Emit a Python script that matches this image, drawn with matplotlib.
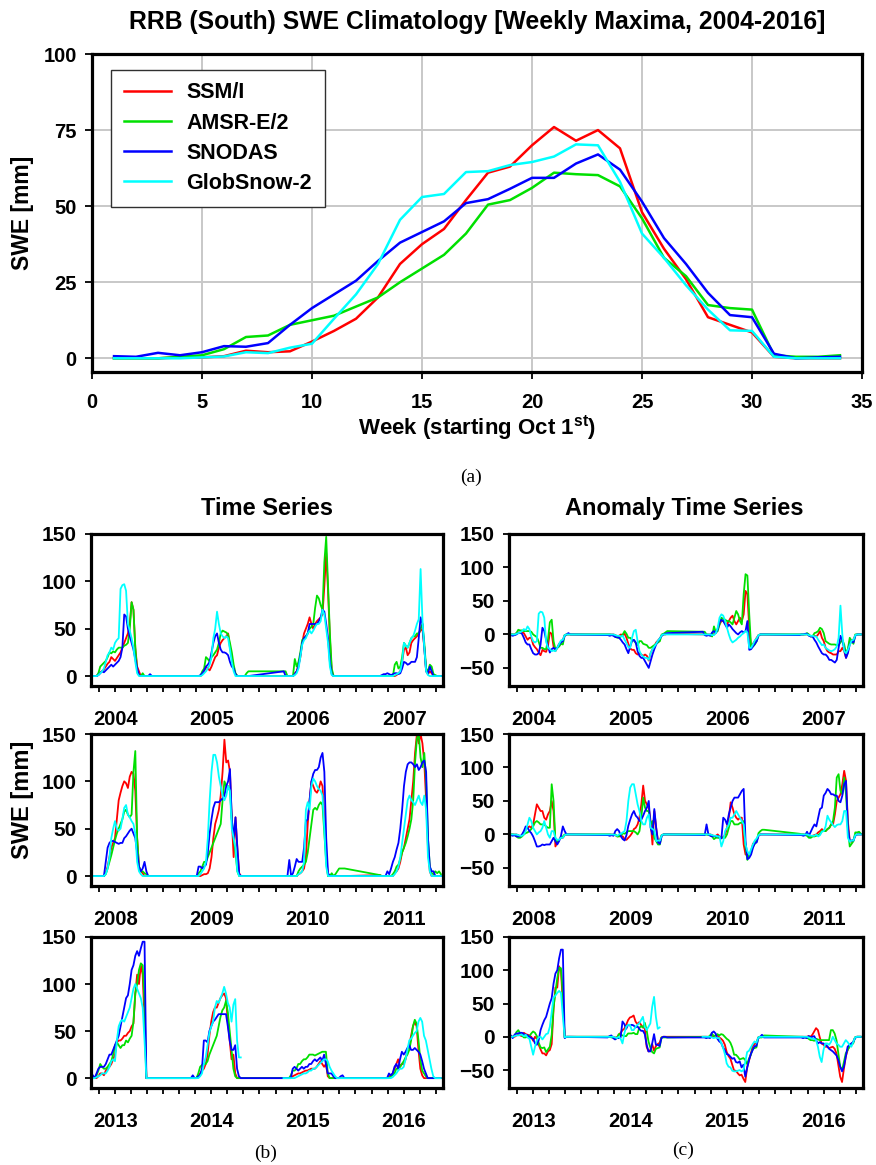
import numpy as np
import matplotlib
matplotlib.use('Agg')
import matplotlib.pyplot as plt
import matplotlib.dates as mdates

nan = np.nan

# ---------------- panel (a): weekly climatology ----------------
weeks = np.arange(1, 35)
ssmi_clim = [0, 0, 0, 0.3, 0.3, 0.7, 2.5, 2, 2.3, 5.5, 9, 13, 20, 31, 37.5, 42.5, 52, 61, 63, 70,
             76, 71.5, 75, 69, 48, 36, 26, 13.5, 11, 8.5, 0.5, 0, 0, 0]
amsr_clim = [0, 0, 0, 0.5, 1, 3, 7, 7.5, 11, 12.5, 14, 17, 20, 25, 29.5, 34, 41, 50.5, 52, 56,
             61, 60.5, 60.2, 56.5, 46, 33, 27, 17.5, 16.5, 16, 1, 0.5, 0.5, 1]
snodas_clim = [0.7, 0.5, 1.8, 1, 2, 4, 3.8, 5, 11, 16.5, 21, 25.5, 32, 38, 41.5, 45, 51, 52.3, 55.7, 59.3,
               59.3, 64, 67, 62, 51.5, 39.5, 31, 21.5, 14.2, 13.5, 1.5, 0, 0.3, 0.5]
glob_clim = [0, 0, 0, 0, 0.3, 0.6, 2, 1.7, 3.5, 4.8, 13, 21, 31, 45.5, 53, 54, 61.2, 61.5, 63.5, 64.5,
             66.3, 70.3, 70, 58, 41, 33, 24, 16, 9.2, 9, 0.5, 0, 0, 0]

# ---------------- panel (b): weekly SWE per season (Oct 1 - late May) ----------------
ssmi_ts = {
    2004: [0,0,0,0,2,4,5,7,10,13,15,20,18,16,19,22,25,30,35,40,45,55,78,70,30,10,5,0,0,0,0,0,0,0],
    2005: [0,0,0,0,0,0,0,0,2,5,10,8,6,10,15,20,22,30,35,38,40,42,45,30,20,8,2,0,0,0,0,0,0,0],
    2006: [0,0,0,0,0,0,3,5,12,20,35,45,50,55,62,55,50,55,58,60,62,65,95,130,90,40,5,0,0,0,0,0,0,0],
    2007: [0,0,0,0,0,0,0,0,0,1,3,5,15,28,30,22,25,35,38,40,42,45,48,50,30,5,2,5,3,0,0,0,0,0],
    2008: [0,0,0,0,0,0,0,0,3,10,20,30,35,40,60,80,88,95,100,98,93,105,110,108,90,40,10,5,3,0,0,0,0,0],
    2009: [0,0,0,0,0,0,0,0,1,2,2,3,8,20,40,55,62,70,85,110,144,120,122,110,60,20,62,30,3,0,0,0,0,0],
    2010: [0,0,0,0,0,0,0,0,2,3,5,8,20,55,80,100,95,90,88,92,100,95,60,20,0,0,0,0,0,0,0,0,0,0],
    2011: [1,0,0,0,0,0,0,0,3,5,8,15,25,30,40,50,60,80,100,130,150,140,150,140,120,80,30,5,0,0,0,0,0,0],
    2013: [2,1,0,0,2,5,5,3,8,10,12,15,20,25,38,40,40,42,45,45,48,50,55,58,90,110,100,120,110,60,0,0,0,0],
    2014: [0,0,0,0,0,0,2,5,8,10,15,25,45,60,70,75,75,80,85,88,90,85,60,40,20,25,5,0,0,0,0,0,0,0],
    2015: [0,0,0,0,0,2,3,4,5,5,6,7,8,8,9,10,10,10,12,15,18,15,12,15,2,0,0,0,0,0,0,0,0,0],
    2016: [0,0,0,0,0,2,3,5,10,15,20,12,15,15,20,30,35,45,55,60,55,30,10,3,0,0,0,0,0,0,0,0,0,0],
}
amsr_ts = {
    2004: [0,0,0,0,3,10,12,14,16,20,25,24,26,25,28,30,30,30,32,33,35,50,78,70,30,5,1,0,3,0,0,0,0,0],
    2005: [0,0,0,0,0,0,0,0,5,8,20,18,15,20,22,25,28,35,45,48,47,46,44,35,25,12,3,0,0,0,0,0,3,5],
    2006: [5,5,0,0,0,0,18,10,15,25,38,40,42,45,50,52,55,72,85,82,75,70,120,147,95,45,8,0,0,0,0,0,0,0],
    2007: [0,0,0,0,0,0,0,0,12,15,8,10,20,35,32,30,35,40,42,42,45,45,50,55,35,8,5,12,10,2,1,0,0,0],
    2008: [0,0,0,0,0,0,0,0,2,8,15,22,30,38,45,50,55,60,68,70,65,62,65,110,132,40,10,5,5,3,2,0,0,0],
    2009: [0,0,0,0,0,0,3,5,10,15,15,20,25,30,35,40,45,50,55,80,100,95,95,90,60,40,25,5,0,0,0,0,0,0],
    2010: [0,0,0,0,0,0,0,0,5,8,10,12,15,25,40,55,70,72,70,75,78,75,45,15,0,0,3,0,2,5,8,8,8,8],
    2011: [1,0,0,0,0,0,0,2,5,10,12,18,25,30,35,42,50,60,80,120,145,150,125,115,130,100,40,10,3,2,5,3,5,2],
    2013: [2,0,0,3,8,15,12,10,10,12,15,18,25,35,38,35,32,35,35,40,38,42,45,60,90,100,115,122,120,80,0,0,0,0],
    2014: [0,0,0,0,0,0,5,12,14,15,15,18,25,30,35,40,45,55,65,72,75,82,70,50,30,10,2,0,0,0,0,0,0,0],
    2015: [0,0,0,0,3,8,8,10,15,15,18,20,20,22,25,25,25,24,25,26,27,28,28,28,5,0,0,0,0,0,0,0,0,0],
    2016: [0,0,0,0,0,0,2,3,5,10,10,12,15,18,22,25,30,40,55,62,58,40,20,8,5,2,0,0,0,0,0,0,0,0],
}
snodas_ts = {
    2004: [0,0,0,0,1,3,5,4,6,8,10,12,10,12,14,16,20,30,65,63,50,42,35,28,18,8,1,0,0,0,0,0,2,0],
    2005: [0,0,0,0,0,0,0,1,3,6,10,12,15,25,35,42,45,35,28,25,25,24,22,15,10,8,2,0,0,0,0,0,0,0],
    2006: [5,0,0,0,0,0,2,5,10,22,35,40,42,45,55,55,55,55,55,58,62,70,68,55,40,15,2,0,0,0,0,0,0,0],
    2007: [0,1,2,2,3,2,1,2,3,3,2,3,8,15,14,12,13,15,15,15,20,40,62,55,30,5,3,10,5,0,0,0,0,0],
    2008: [0,0,0,0,0,0,0,0,15,30,35,37,37,36,35,34,35,35,40,42,45,48,50,45,40,25,10,5,8,15,5,0,0,0],
    2009: [0,0,0,0,0,0,10,10,8,10,12,25,45,60,72,78,78,78,80,82,85,95,100,113,60,40,62,30,2,0,0,0,0,0],
    2010: [0,0,0,17,0,3,10,18,15,15,15,30,58,60,80,100,108,112,112,115,125,130,110,40,3,0,0,0,0,0,0,0,0,0],
    2011: [0,0,0,0,5,2,8,15,20,28,35,50,70,95,110,118,120,120,118,115,118,112,115,120,122,110,40,10,5,5,0,0,0,0],
    2013: [5,3,0,5,10,12,12,12,15,20,25,25,30,35,40,45,55,65,75,85,88,100,115,120,130,135,130,138,145,145,0,0,0,0],
    2014: [0,0,0,3,0,0,2,3,10,40,40,38,50,55,60,62,65,68,68,68,68,68,55,40,30,30,35,10,2,0,0,0,0,0],
    2015: [0,0,0,0,0,10,12,10,8,10,12,10,12,12,15,15,18,20,18,20,22,18,25,15,5,5,5,2,0,0,0,2,3,0],
    2016: [0,0,0,0,0,5,3,5,12,15,10,20,28,25,28,32,35,30,30,32,30,28,25,18,10,5,0,0,0,0,0,0,0,0],
}
glob_ts = {
    2004: [0,0,0,0,1,3,5,8,15,22,25,30,28,35,38,40,92,96,97,90,55,48,40,30,15,3,0,0,0,0,0,0,0,0],
    2005: [0,0,0,0,0,0,0,0,1,3,5,8,12,20,40,50,68,55,45,42,40,42,40,28,15,5,0,0,0,0,0,0,0,0],
    2006: [0,0,0,0,0,0,1,3,8,20,33,38,40,45,48,45,48,52,55,55,58,70,65,50,35,10,1,0,0,0,0,0,0,0],
    2007: [0,0,0,0,0,0,0,0,1,2,3,5,15,35,32,30,35,40,42,48,55,60,113,60,30,5,1,0,0,0,0,0,0,0],
    2008: [0,0,0,0,0,0,0,0,2,8,20,40,50,58,50,48,50,60,72,75,65,62,58,55,45,15,5,2,0,0,0,0,0,0],
    2009: [0,0,0,0,0,0,0,2,5,8,15,40,80,110,128,128,120,105,95,85,80,85,95,90,50,40,30,5,0,0,0,0,0,0],
    2010: [0,0,0,0,0,0,0,0,2,3,5,15,70,78,70,95,103,100,95,92,90,85,50,10,0,0,0,0,0,0,0,0,0,0],
    2011: [0,0,0,0,0,0,0,0,2,5,10,20,35,50,65,80,85,80,78,75,80,85,78,75,85,70,20,5,0,0,0,0,0,0],
    2013: [0,0,0,1,2,3,5,5,5,8,12,18,20,18,40,55,60,62,60,65,70,75,85,95,100,95,90,85,75,40,0,0,0,0],
    2014: [0,0,0,0,0,0,0,2,5,15,22,35,48,55,60,75,82,80,85,90,97,90,80,75,60,78,84,40,22,22,nan,nan,nan,nan],
    2015: [0,0,0,0,0,0,0,1,2,3,4,5,5,6,8,8,10,10,12,14,16,18,20,20,18,12,8,5,2,0,0,0,0,0],
    2016: [0,0,0,0,0,0,0,1,3,5,8,10,10,12,20,30,40,42,45,48,50,60,64,60,45,40,30,20,10,2,0,0,0,0],
}

# ---------------- panel (c): weekly anomalies ----------------
ssmi_anom = {
    2004: [0,0,0,0,2,3,2,3,2,-3,-8,-5,-5,-15,-19,-22,-27,-31,-23,-25,-26,-17,3,1,-18,-25,-20,-14,-11,-8,-1,0,0,0],
    2005: [0,0,0,0,0,-1,-3,-2,0,-1,1,-5,-14,-21,-23,-23,-28,-30,-28,-30,-32,-30,-32,-39,-28,-22,-18,-12,-9,-6,-1,0,0,1],
    2006: [0,0,0,0,0,-1,0,3,8,15,20,20,18,15,20,25,28,20,15,20,25,20,30,65,60,10,-20,-14,-10,-5,-1,0,0,0],
    2007: [0,0,0,0,0,-1,-3,-2,-2,-3,0,5,-5,-10,-20,-25,-27,-28,-30,-30,-30,-25,-25,-20,-25,-35,-24,-10,-8,-8,-1,0,0,0],
    2008: [0,0,0,0,0,-1,-3,-2,3,8,10,12,10,15,30,45,40,35,35,25,22,30,35,50,35,-18,-12,-8,-5,-5,-1,0,0,0],
    2009: [0,0,0,0,0,-1,-3,-2,-2,-3,-7,-8,-5,-2,2,8,10,15,25,45,73,50,45,40,20,-15,35,10,-10,-8,-1,0,0,0],
    2010: [0,0,0,0,0,-1,-3,-2,0,-3,-4,-5,0,10,25,48,40,30,25,22,25,25,-15,-30,-30,-30,-26,-14,-11,-9,-1,0,0,0],
    2011: [0,0,0,0,0,-1,-3,-2,-1,0,3,5,8,5,5,8,10,15,15,30,50,55,60,75,95,80,20,-10,-11,-8,-1,0,0,0],
    2013: [2,1,0,0,2,4,2,1,6,4,3,2,0,-6,0,-3,-12,-19,-25,-25,-28,-22,-20,-11,42,74,74,106,99,51,-1,0,0,0],
    2014: [0,0,0,0,0,-1,-1,3,6,10,12,18,25,29,30,32,23,19,22,18,14,13,-15,-22,-20,-11,-21,-14,-11,-9,-1,0,0,0],
    2015: [0,0,0,0,0,1,0,2,3,-1,-3,-6,-12,-23,-29,-33,-42,-51,-51,-55,-58,-57,-63,-68,-46,-36,-26,-14,-11,-9,-1,0,0,0],
    2016: [0,0,0,0,0,1,0,3,8,13,10,-1,-10,-12,-15,-15,-17,-16,-15,-18,-25,-42,-60,-68,-48,-30,-20,-14,-11,-8,-1,0,0,0],
}
amsr_anom = {
    2004: [0,0,0,-1,2,7,6,6,5,5,5,5,4,0,-2,-4,-11,-20,-20,-22,-22,-8,18,22,-10,-22,-20,-18,-14,-15,-1,0,0,0],
    2005: [0,0,0,-1,-1,-3,-5,-5,-3,0,5,1,-5,-5,-8,-9,-13,-16,-10,-10,-14,-15,-16,-20,-20,-18,-16,-14,-12,-10,0,1,3,5],
    2006: [4,4,0,-1,-1,-3,12,3,5,15,25,23,22,20,20,18,15,25,35,30,20,15,60,90,88,30,-19,-18,-15,-10,-1,0,0,0],
    2007: [0,0,0,0,2,0,-3,-3,2,3,5,10,8,2,-10,-12,-14,-15,-15,-15,-16,-16,-12,-8,-15,-28,-22,-5,-10,-14,0,0,0,0],
    2008: [0,0,0,-1,-3,-5,-5,-3,0,2,3,5,8,12,18,20,18,15,15,15,12,10,10,75,50,-10,-10,-8,-5,-3,0,0,0,0],
    2009: [0,0,0,-1,-1,0,-3,-3,-2,2,1,3,5,5,5,5,3,0,5,25,55,40,35,35,15,20,-5,-10,-15,-15,-1,0,0,0],
    2010: [0,0,0,-1,-1,-3,-7,-5,-5,-5,-4,-5,-5,0,10,20,20,15,15,15,17,18,20,-20,-38,-30,-25,-18,-14,-10,2,5,7,7],
    2011: [1,0,0,-1,-2,-5,-5,-3,-3,-2,-1,1,5,5,5,8,10,15,20,40,85,90,65,60,85,60,10,-18,-14,-10,3,3,4,1],
    2013: [2,0,0,2,7,10,5,2,-1,-1,1,1,5,8,6,1,-9,-16,-17,-16,-23,-19,-15,3,44,67,88,104,103,64,-1,0,0,0],
    2014: [0,0,0,-1,-1,-3,-2,4,3,2,1,1,5,5,5,6,4,4,13,16,14,21,10,-7,-16,-23,-25,-18,-17,-16,-1,-1,-1,-1],
    2015: [0,0,0,-1,2,5,1,2,4,2,4,3,0,-3,-5,-9,-16,-27,-27,-30,-34,-33,-32,-35,-41,-33,-27,-18,-17,-16,-1,-1,-1,2],
    2016: [0,0,0,-1,-1,-3,-5,-5,-6,-3,-4,-5,-5,-5,-5,-5,-5,10,10,5,-5,-25,-45,-50,-38,-25,-20,-15,-12,-10,-1,0,0,0],
}
snodas_anom = {
    2004: [-1,-1,-2,-1,0,2,3,1,-5,-12,-15,-15,-22,-28,-30,-30,-28,-15,10,5,-8,-18,-27,-22,-20,-22,-20,-15,-12,-10,-2,0,2,0],
    2005: [-1,-1,-2,-1,-2,-4,-4,-5,-8,-12,-15,-22,-28,-18,-10,-8,-12,-25,-32,-35,-35,-40,-45,-50,-40,-30,-22,-15,-10,-6,-2,0,1,2],
    2006: [4,-1,-2,-1,-2,3,5,2,8,18,22,20,15,10,15,12,8,5,2,0,3,5,3,5,20,-23,-22,-18,-14,-10,-2,0,0,0],
    2007: [-1,0,0,1,1,-2,-3,-3,-8,-12,-18,-23,-28,-30,-30,-33,-38,-38,-40,-42,-38,-20,-2,-8,-22,-35,-28,-15,-10,-12,-2,0,0,0],
    2008: [-1,-1,-2,-1,-3,-3,-3,0,5,12,10,5,2,-3,-10,-18,-18,-17,-15,-16,-15,-15,-15,-10,-5,-10,-15,-10,-2,12,5,0,0,0],
    2009: [-1,-1,-2,-1,-2,5,8,5,-3,-7,-9,-1,13,22,30,35,28,25,20,22,28,35,40,50,10,0,38,10,-12,-14,-2,0,0,0],
    2010: [-1,-1,15,0,-2,-3,-2,-3,-2,-5,-6,25,22,15,30,40,50,55,55,55,60,65,68,-10,-37,-35,-30,-20,-13,-12,-2,0,0,0],
    2011: [-1,-1,-2,-1,4,-2,4,10,15,12,25,38,40,58,62,68,65,60,60,58,58,50,48,58,75,80,10,-10,-9,-9,-2,0,0,0],
    2013: [4,2,-2,3,5,5,6,6,4,3,2,0,-2,-3,-10,-12,-5,10,18,25,30,40,50,58,80,95,100,118,131,131,-2,0,0,0],
    2014: [-1,-1,1,2,-2,-4,-2,-2,-1,23,19,12,18,17,18,17,14,16,12,9,9,4,-12,-22,-22,-10,4,-12,-12,-14,-2,0,0,-1],
    2015: [-1,-1,-2,-1,-2,6,8,5,-3,-7,-9,-16,-20,-26,-27,-30,-33,-32,-38,-39,-37,-46,-42,-60,-47,-35,-26,-20,-14,-14,-2,0,3,-1],
    2016: [-1,-1,-2,-1,-2,1,-1,0,1,-5,-10,-8,-10,-10,-12,-14,-18,-20,-22,-25,-28,-35,-45,-52,-45,-30,-15,-12,-10,-8,-2,0,0,0],
}
glob_anom = {
    2004: [0,0,0,0,1,2,3,5,8,6,12,8,-3,-10,-12,-10,31,34,33,25,-11,-20,-22,-25,-24,-25,-20,-14,-9,-8,-1,0,0,0],
    2005: [0,0,0,0,0,-1,-2,-2,-3,-2,-8,-13,-19,-20,-5,5,7,-10,-25,-30,-33,-35,-35,-38,-28,-22,-18,-14,-9,-6,-1,0,0,0],
    2006: [0,0,0,0,0,-1,-1,2,10,25,30,28,20,10,0,-8,-12,-10,-8,-5,-3,0,2,5,3,-20,-20,-15,-9,-6,-1,0,0,0],
    2007: [0,0,0,0,0,-1,-2,-2,-3,-3,-8,-12,-16,-15,-20,-22,-24,-25,-24,-22,-18,-5,43,0,-25,-28,-23,-16,-9,-8,-1,0,0,0],
    2008: [0,0,0,0,0,-1,-2,-2,0,5,15,25,20,10,5,0,3,5,10,20,10,0,-5,5,5,-5,-8,-8,-5,-5,-1,0,0,0],
    2009: [0,0,0,0,0,-1,-2,0,1,3,5,20,50,70,75,75,60,45,35,20,15,15,25,30,10,8,6,-10,-9,-9,-1,0,0,0],
    2010: [0,0,0,0,0,-1,-2,-2,-3,-3,-18,-10,5,10,15,25,25,30,35,30,25,20,15,-15,-25,-30,-22,-15,-9,-6,-1,0,0,0],
    2011: [0,0,0,0,0,-1,-2,-2,-2,0,-3,-1,4,5,12,28,22,18,14,11,14,15,15,20,35,35,-5,-11,-9,-9,-1,0,0,0],
    2013: [0,0,0,1,2,2,3,3,1,3,-1,-3,-15,-27,-15,-5,-1,0,-4,0,4,5,15,37,59,62,66,69,66,31,-1,0,0,0],
    2014: [0,0,0,0,0,-1,-2,0,-3,-10,5,15,18,18,10,10,15,18,20,25,30,15,10,15,20,45,60,30,12,14,nan,nan,nan,nan],
    2015: [0,0,0,0,0,-1,-2,-1,-2,-2,-9,-16,-26,-40,-45,-46,-51,-52,-52,-51,-50,-52,-50,-38,-23,-21,-16,-11,-7,-9,-1,0,0,0],
    2016: [0,0,0,0,0,-1,-2,-3,-3,-5,-15,-30,-38,-20,-10,-10,-12,-8,0,-5,-10,-12,-15,-15,-10,-5,-8,-12,-15,-8,-1,0,0,0],
}

products = ['SSM/I', 'AMSR-E/2', 'SNODAS', 'GlobSnow-2']
colors = ['#ff0000', '#00e000', '#0000ff', '#00ffff']
rows = [[2004, 2005, 2006, 2007], [2008, 2009, 2010, 2011], [2013, 2014, 2015, 2016]]

BOLD = ['Liberation Sans', 'DejaVu Sans']
SERIF = ['Liberation Serif', 'DejaVu Serif']
plt.rcParams['font.family'] = BOLD
plt.rcParams['font.weight'] = 'bold'
plt.rcParams['mathtext.fontset'] = 'custom'
plt.rcParams['mathtext.bf'] = 'Liberation Sans:bold'
plt.rcParams['mathtext.rm'] = 'Liberation Sans:bold'

W, H = 876, 1165
fig = plt.figure(figsize=(W / 100, H / 100), dpi=100)


def box(l, t, r, b):
    return [l / W, 1 - b / H, (r - l) / W, (b - t) / H]


def season_dates(year):
    return np.datetime64(f'{year - 1}-10-01') + np.arange(34) * np.timedelta64(7, 'D')


def frame(ax, lw=2.3):
    for s in ax.spines.values():
        s.set_linewidth(lw)
        s.set_color('black')


# ---------- (a) climatology ----------
ax = fig.add_axes(box(92, 54, 862, 372))
for vals, name, c in zip([ssmi_clim, amsr_clim, snodas_clim, glob_clim], products, colors):
    ax.plot(weeks, vals, color=c, lw=1.8, label=name)
ax.set_xlim(0, 35)
ax.set_ylim(-4.5, 100)
ax.set_xticks(range(0, 36, 5))
ax.set_yticks([0, 25, 50, 75, 100])
ax.grid(color='#c8c8c8', lw=1.4)
ax.set_axisbelow(True)
ax.tick_params(direction='out', length=5, width=1.3, labelsize=14.5, pad=6)
ax.tick_params(axis='x', pad=10)
frame(ax)
leg = ax.legend(loc='upper left', bbox_to_anchor=(0.0243, 0.951), borderaxespad=0,
                fontsize=15.5, handlelength=2.2, handletextpad=0.7, labelspacing=0.42,
                borderpad=0.6, fancybox=False, framealpha=1)
leg.get_frame().set_edgecolor('#303030')
leg.get_frame().set_linewidth(1.0)

fig.text(477 / W, 1 - 22 / H, 'RRB (South) SWE Climatology [Weekly Maxima, 2004-2016]',
         ha='center', va='center', fontsize=17.8, weight='bold')
fig.text(22 / W, 1 - 213 / H, 'SWE [mm]', rotation=90, ha='center', va='center',
         fontsize=16.5, weight='bold')
fig.text(477 / W, 1 - 428 / H, r'Week (starting Oct 1$^{\mathbf{st}}$)', ha='center', va='center',
         fontsize=16, weight='bold')
fig.text(471 / W, 1 - 477 / H, '(a)', ha='center', va='center', fontsize=14,
         family=SERIF, weight='normal')

# ---------- (b) time series and (c) anomalies ----------
row_boxes = [(534, 686), (734, 886), (937, 1088)]
ts_sets = [ssmi_ts, amsr_ts, snodas_ts, glob_ts]
an_sets = [ssmi_anom, amsr_anom, snodas_anom, glob_anom]

for r, seasons in enumerate(rows):
    top, bot = row_boxes[r]
    dates = np.concatenate([season_dates(y) for y in seasons])
    x0 = np.datetime64(f'{seasons[0] - 1}-10-01')
    x1 = np.datetime64(f'{seasons[-1]}-05-28')
    for col, (sets, lims, yt, left, right) in enumerate([
            (ts_sets, (-10.5, 150), [0, 50, 100, 150], 91, 443),
            (an_sets, (-77, 150), [-50, 0, 50, 100, 150], 509, 863)]):
        ax = fig.add_axes(box(left, top, right, bot))
        for data, c in zip(sets, colors):
            vals = np.concatenate([data[y] for y in seasons]).astype(float)
            ax.plot(dates, vals, color=c, lw=1.3)
        ax.set_xlim(x0, x1)
        ax.set_ylim(*lims)
        ax.set_yticks(yt)
        ax.xaxis.set_major_locator(mdates.YearLocator())
        ax.xaxis.set_major_formatter(mdates.DateFormatter('%Y'))
        ax.xaxis.set_minor_locator(mdates.MonthLocator(bymonth=[3, 5, 7, 9, 11]))
        ax.tick_params(which='both', direction='out', length=4, width=1.3)
        ax.tick_params(axis='y', labelsize=15, pad=6)
        ax.tick_params(axis='x', labelsize=14.5, pad=13)
        frame(ax)

fig.text(267 / W, 1 - 508 / H, 'Time Series', ha='center', va='center', fontsize=17, weight='bold')
fig.text(684 / W, 1 - 508 / H, 'Anomaly Time Series', ha='center', va='center', fontsize=17,
         weight='bold')
fig.text(22 / W, 1 - 800 / H, 'SWE [mm]', rotation=90, ha='center', va='center',
         fontsize=17, weight='bold')
fig.text(266 / W, 1 - 1153 / H, '(b)', ha='center', va='center', fontsize=14,
         family=SERIF, weight='normal')
fig.text(683 / W, 1 - 1150 / H, '(c)', ha='center', va='center', fontsize=14,
         family=SERIF, weight='normal')

fig.savefig('out.png', dpi=100)
